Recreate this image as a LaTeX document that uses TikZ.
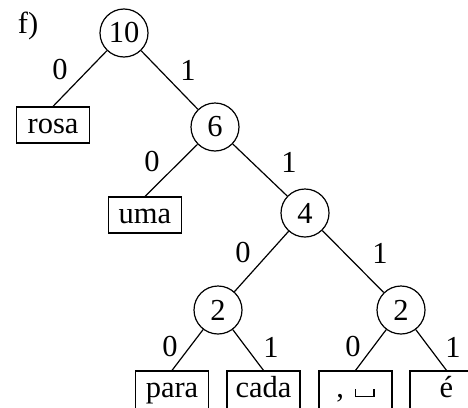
\documentclass[tikz,border=0pt]{standalone}
\usepackage{fontspec}
\setmainfont{Liberation Serif}
\newcommand{\vspsym}{\rule{0.045em}{0.27em}\rule{0.56em}{0.045em}\rule{0.045em}{0.27em}}
\begin{document}
\begin{tikzpicture}[x=1pt,y=-1pt, line width=1.2pt,
  every node/.style={font=\fontsize{30.5}{36}\selectfont},
  inode/.style={draw, circle, minimum size=48pt, inner sep=0pt},
  leaf/.style={draw, rectangle, minimum width=73pt, minimum height=36pt, inner sep=0pt, text height=22pt, text depth=6pt},
  bottomleaf/.style={leaf, minimum height=42pt, text height=18pt, text depth=8pt},
  bit/.style={inner sep=0pt}]
\clip (0,0) rectangle (468,407);
\node[bit, anchor=base] (title) at (28,33) {f)};
% internal nodes
\node[inode] (n10) at (124,33) {10};
\node[inode] (n6) at (215,127) {6};
\node[inode] (n4) at (305,213) {4};
\node[inode] (n2a) at (218,310) {2};
\node[inode] (n2b) at (401,310) {2};
% leaves
\node[leaf] (rosa) at (53,125) {rosa};
\node[leaf] (uma) at (145,215) {uma};
\node[bottomleaf] (para) at (172,392) {para};
\node[bottomleaf] (cada) at (263.5,392) {cada};
\node[bottomleaf] (comma) at (355.5,392) {,\hspace{0.35em}\vspsym};
\node[bottomleaf] (eacute) at (446.5,392) {é};
% edges
\draw (n10) -- (rosa.north);
\draw (n10) -- (n6);
\draw (n6) -- (uma.north);
\draw (n6) -- (n4);
\draw (n4) -- (n2a);
\draw (n4) -- (n2b);
\draw (n2a) -- (para.north);
\draw (n2a) -- (cada.north);
\draw (n2b) -- (comma.north);
\draw (n2b) -- (eacute.north);
% bit labels
\node[bit] (b1) at (60,70) {0};
\node[bit] (b2) at (188,70) {1};
\node[bit] (b3) at (152,162) {0};
\node[bit] (b4) at (289,162) {1};
\node[bit] (b5) at (243,253) {0};
\node[bit] (b6) at (380,253) {1};
\node[bit] (b7) at (170,347) {0};
\node[bit] (b8) at (271,347) {1};
\node[bit] (b9) at (353,347) {0};
\node[bit] (b10) at (453,347) {1};
\end{tikzpicture}
\end{document}
